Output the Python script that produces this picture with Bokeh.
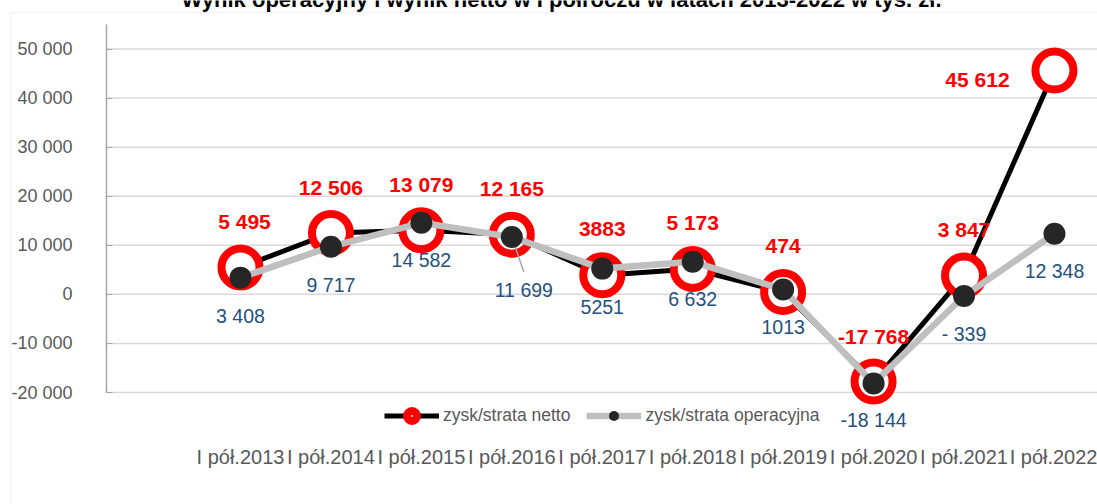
from bokeh.plotting import figure
from bokeh.models import (Range1d, FixedTicker, Legend, LegendItem,
                          LabelSet, Label, ColumnDataSource, BoxAnnotation)
from bokeh.core.properties import value
from bokeh.embed import file_html
from bokeh.resources import INLINE

# ---- data ----
categories = ["I pół.2013", "I pół.2014", "I pół.2015", "I pół.2016", "I pół.2017",
              "I pół.2018", "I pół.2019", "I pół.2020", "I pół.2021", "I pół.2022"]
netto = [5495, 12506, 13079, 12165, 3883, 5173, 474, -17768, 3847, 45612]
operacyjna = [3408, 9717, 14582, 11699, 5251, 6632, 1013, -18144, -339, 12348]
netto_labels = ["5 495", "12 506", "13 079", "12 165", "3883", "5 173", "474",
                "-17 768", "3 847", "45 612"]
oper_labels = ["3 408", "9 717", "14 582", "11 699", "5251", "6 632", "1013",
               "-18 144", "- 339", "12 348"]
y_ticks = [-20000, -10000, 0, 10000, 20000, 30000, 40000, 50000]
y_tick_labels = ["-20 000", "-10 000", "0", "10 000", "20 000", "30 000",
                 "40 000", "50 000"]
y_min, y_max = -20000, 55000
title_text = "Wynik operacyjny i wynik netto w I półroczu w latach 2013-2022 w tys. zł."

# ---- label placement (styling) ----
netto_dx = [4, 0, 0, 0, 0, 0, 0, 0, 0, -77]
netto_dy = [46, 46, 46, 46, 46, 46, 46, 45, 46, -9]
oper_dx = [0, 0, 0, 12, 0, 0, 0, 0, 0, 0]
oper_dy = [-38, -38, -37, -53, -38, -37, -38, -37, -38, -37]

FONT = "Liberation Sans"
W, H = 1097, 504
AXIS_PX, TOP_PX, BOTTOM_PX = 106, 24, 392      # plot area in canvas pixels
X0_PX, STEP_PX = 240.0, 90.44                   # first category centre, spacing
px_per_y = (BOTTOM_PX - TOP_PX) / (y_max - y_min)
px_to_x = lambda px: (px - X0_PX) / STEP_PX
px_to_y = lambda py: y_max - (py - TOP_PX) / px_per_y

xs = list(range(len(categories)))

p = figure(width=W, height=H, output_backend="svg", toolbar_location=None,
           x_range=Range1d(px_to_x(0), px_to_x(W)),
           y_range=Range1d(px_to_y(H), px_to_y(0)),
           min_border=0, min_border_left=0, min_border_right=0,
           min_border_top=0, min_border_bottom=0)
p.outline_line_color = None
p.background_fill_color = "white"
p.border_fill_color = "white"
p.xgrid.visible = False
p.ygrid.visible = False

# border frame of the chart area
p.add_layout(BoxAnnotation(left=px_to_x(10), right=px_to_x(W + 20),
                           top=px_to_y(12), bottom=px_to_y(H + 50),
                           fill_alpha=0, line_color="#D9D9D9", line_width=1.5,
                           level="underlay"))

# horizontal gridlines at the tick values
p.segment(x0=[px_to_x(AXIS_PX)] * len(y_ticks), y0=y_ticks,
          x1=[px_to_x(W)] * len(y_ticks), y1=y_ticks,
          line_color="#D9D9D9", line_width=1.5, level="underlay")

# y axis
yax = p.yaxis[0]
yax.fixed_location = px_to_x(AXIS_PX)
yax.bounds = (y_min, y_max)
yax.ticker = FixedTicker(ticks=y_ticks)
yax.major_label_overrides = {t: l for t, l in zip(y_ticks, y_tick_labels)}
yax.axis_line_color = "#A6A6A6"
yax.axis_line_width = 1.5
yax.major_tick_line_color = "#A6A6A6"
yax.major_tick_in = 6
yax.major_tick_out = 0
yax.minor_tick_line_color = None
yax.major_label_standoff = 34
yax.major_label_text_font = FONT
yax.major_label_text_font_size = "18px"
yax.major_label_text_color = "#595959"

# category axis (labels sit below the legend)
xax = p.xaxis[0]
xax.fixed_location = y_min
xax.ticker = FixedTicker(ticks=xs)
xax.major_label_overrides = {i: c for i, c in zip(xs, categories)}
xax.axis_line_color = None
xax.major_tick_line_color = None
xax.minor_tick_line_color = None
xax.major_label_standoff = 47
xax.major_label_text_font = FONT
xax.major_label_text_font_size = "20px"
xax.major_label_text_color = "#595959"

# series
l_net = p.line(xs, netto, line_color="black", line_width=5)
s_net = p.scatter(xs, netto, size=38, fill_color="white", line_color="#FF0000",
                  line_width=8)
l_op = p.line(xs, operacyjna, line_color="#BFBFBF", line_width=6.5)
i_lead = oper_dx.index(12)
p.segment(x0=[xs[i_lead]], y0=[operacyjna[i_lead]],
          x1=[xs[i_lead] + oper_dx[i_lead] / STEP_PX],
          y1=[operacyjna[i_lead] - 35 / px_per_y],
          line_color="#A6A6A6", line_width=1.5)
s_op = p.scatter(xs, operacyjna, size=22, fill_color="#262626", line_color=None)

src_n = ColumnDataSource(dict(x=xs, y=netto, t=netto_labels, dx=netto_dx, dy=netto_dy))
src_o = ColumnDataSource(dict(x=xs, y=operacyjna, t=oper_labels, dx=oper_dx, dy=oper_dy))
p.add_layout(LabelSet(x="x", y="y", text="t", source=src_n, x_offset="dx", y_offset="dy",
                      text_align="center", text_baseline="middle",
                      text_font=value(FONT), text_font_style="bold",
                      text_font_size="21px", text_color="#FF0000"))
p.add_layout(LabelSet(x="x", y="y", text="t", source=src_o, x_offset="dx", y_offset="dy",
                      text_align="center", text_baseline="middle",
                      text_font=value(FONT), text_font_size="19.5px",
                      text_color="#24507E"))

# title (cut off at the top, as in the reference)
p.add_layout(Label(x=px_to_x(561), y=px_to_y(-1), text=title_text,
                   text_align="center", text_baseline="alphabetic",
                   text_font=FONT, text_font_style="bold",
                   text_font_size="22px", text_color="black"))

# legend just below the plot area
legend = Legend(items=[LegendItem(label="zysk/strata netto", renderers=[l_net, s_net]),
                       LegendItem(label="zysk/strata operacyjna", renderers=[l_op, s_op])],
                orientation="horizontal", location=(384, H - BOTTOM_PX - 36),
                glyph_width=55, glyph_height=25, label_height=25,
                label_standoff=4, spacing=16, padding=10, margin=0,
                border_line_color=None, background_fill_alpha=0,
                label_text_font=FONT, label_text_font_size="17.5px",
                label_text_color="#595959")
p.add_layout(legend)

open("out.html", "w").write(file_html(p, INLINE))
